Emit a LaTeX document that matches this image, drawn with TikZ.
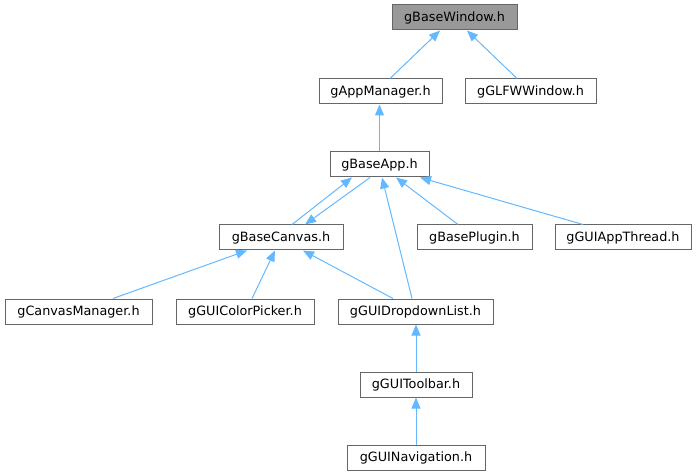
\documentclass[tikz,border=0pt]{standalone}
\usepackage{fontspec}
\setmainfont{DejaVu Sans}
\usetikzlibrary{arrows.meta}
\definecolor{edgeblue}{HTML}{63B8FF}
\definecolor{boxgray}{HTML}{666666}
\definecolor{rootfill}{HTML}{999999}
\tikzset{
  filebox/.style={draw=boxgray, line width=1pt, rectangle, minimum height=25pt, inner sep=0pt, fill=white,
    font=\fontsize{12.8}{15}\selectfont, text=black},
  rootbox/.style={filebox, fill=rootfill},
  dep/.style={draw=edgeblue, line width=1pt, -{Triangle[length=11pt,width=9pt]}, shorten >=0pt},
}
\begin{document}
\begin{tikzpicture}[x=1pt,y=-1pt]
\useasboundingbox (0,0) rectangle (697,476);
\node[rootbox, minimum width=125pt] (win) at (454.5,17.5) {gBaseWindow.h};
\node[filebox, minimum width=123pt] (appm) at (380.5,91.5) {gAppManager.h};
\node[filebox, minimum width=131pt] (glfw) at (530.5,91.5) {gGLFWWindow.h};
\node[filebox, minimum width=99pt] (app) at (379.5,164.5) {gBaseApp.h};
\node[filebox, minimum width=124pt] (canvas) at (281,237.5) {gBaseCanvas.h};
\node[filebox, minimum width=115pt] (plugin) at (474.5,237.5) {gBasePlugin.h};
\node[filebox, minimum width=136pt] (thread) at (623,237.5) {gGUIAppThread.h};
\node[filebox, minimum width=147pt] (cman) at (78.5,311.5) {gCanvasManager.h};
\node[filebox, minimum width=138pt] (cpick) at (245,311.5) {gGUIColorPicker.h};
\node[filebox, minimum width=155pt] (ddl) at (415.5,311.5) {gGUIDropdownList.h};
\node[filebox, minimum width=112pt] (tbar) at (416,384.5) {gGUIToolbar.h};
\node[filebox, minimum width=138pt] (nav) at (416,457.5) {gGUINavigation.h};

\draw[dep] ([xshift=9.5pt]appm.north) -- ([xshift=-14.5pt]win.south);
\draw[dep] ([xshift=-13.5pt]glfw.north) -- ([xshift=12.5pt]win.south);
\draw[dep] (app.north) -- (app.north |- appm.south);
\draw[dep] ([xshift=11pt]canvas.north) -- ([xshift=-27.5pt]app.south);
\draw[dep] ([xshift=-9.5pt]app.south) -- ([xshift=24pt]canvas.north);
\draw[dep] ([xshift=-16.5pt]plugin.north) -- ([xshift=16.5pt]app.south);
\draw[dep] ([xshift=-40pt]thread.north) -- ([xshift=40.5pt]app.south);
\draw[dep] ([xshift=-3.5pt]ddl.north) -- ([xshift=2.5pt]app.south);
\draw[dep] ([xshift=34.5pt]cman.north) -- ([xshift=-34pt]canvas.south);
\draw[dep] ([xshift=7pt]cpick.north) -- ([xshift=-6pt]canvas.south);
\draw[dep] ([xshift=-22.5pt]ddl.north) -- ([xshift=22pt]canvas.south);
\draw[dep] (tbar.north) -- (tbar.north |- ddl.south);
\draw[dep] (nav.north) -- (nav.north |- tbar.south);
\end{tikzpicture}
\end{document}
